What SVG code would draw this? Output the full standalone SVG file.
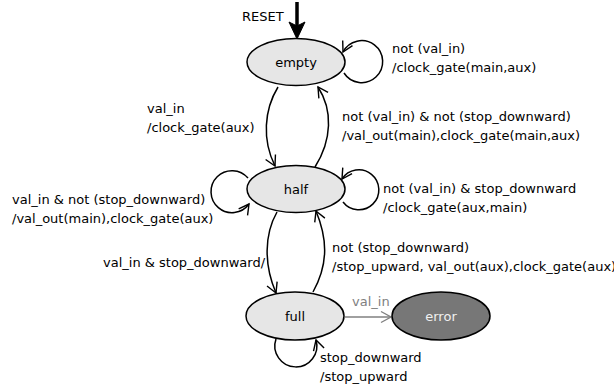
<svg xmlns="http://www.w3.org/2000/svg" width="614" height="389" viewBox="0 0 614 389">
<style>
text{font-family:"DejaVu Sans",sans-serif;font-size:13px;fill:#000}
.st ellipse{fill:#e6e6e6;stroke:#000;stroke-width:1.5}
.c path{fill:none;stroke:#000;stroke-width:1.5;marker-end:url(#ah)}
.mid{text-anchor:middle}
</style>
<defs>
<marker id="ah" viewBox="-12 -7 14 14" refX="0" refY="0" markerWidth="14" markerHeight="14" markerUnits="userSpaceOnUse" orient="auto">
<path d="M-10,-5.5 L0,0 L-10,5.5" fill="none" stroke="#000" stroke-width="1.4"/>
</marker>
<marker id="ahg" viewBox="-12 -7 14 14" refX="0" refY="0" markerWidth="14" markerHeight="14" markerUnits="userSpaceOnUse" orient="auto">
<path d="M-10,-5.5 L0,0 L-10,5.5" fill="none" stroke="#808080" stroke-width="1.4"/>
</marker>
</defs>
<g id="connectors" class="c">
<path d="M297,2 L297,26" style="stroke-width:3.5;marker-end:none"/>
<polygon points="289,22 297,39 305,22 297,26" fill="#000" stroke="#000" stroke-width="1"/>
<path d="M344,73 A21,21 0 1 0 343,52"/>
<path d="M278,87 C264,110 262,140 275,166"/>
<path d="M315,167 C332,140 333,110 318,87"/>
<path d="M248,178 A21,21 0 1 0 249,204"/>
<path d="M343,202 A20,20 0 1 0 342,179"/>
<path d="M277,212 C264,235 264,265 276,293"/>
<path d="M313,292 C328,265 328,240 316,211"/>
<path d="M276,339 A21,21 0 1 0 316,340"/>
<path d="M345,317 L391,317" style="stroke:#808080;marker-end:url(#ahg)"/>
</g>
<g id="labels">
<text x="242" y="21">RESET</text>
<text x="392" y="53">not (val_in)</text>
<text x="392" y="72">/clock_gate(main,aux)</text>
<text x="147" y="113">val_in</text>
<text x="147" y="132">/clock_gate(aux)</text>
<text x="342" y="121">not (val_in) &amp; not (stop_downward)</text>
<text x="342" y="140">/val_out(main),clock_gate(main,aux)</text>
<text x="12" y="204">val_in &amp; not (stop_downward)</text>
<text x="12" y="223">/val_out(main),clock_gate(aux)</text>
<text x="383" y="193">not (val_in) &amp; stop_downward</text>
<text x="383" y="212">/clock_gate(aux,main)</text>
<text x="332" y="252">not (stop_downward)</text>
<text x="332" y="271">/stop_upward, val_out(aux),clock_gate(aux)</text>
<text x="103" y="267">val_in &amp; stop_downward/</text>
<text x="352" y="306" style="fill:#808080">val_in</text>
<text x="320" y="362">stop_downward</text>
<text x="320" y="381">/stop_upward</text>
</g>
<g id="empty" class="st"><ellipse cx="296" cy="62" rx="49" ry="23.5"/><text class="mid" x="296" y="67">empty</text></g>
<g id="half" class="st"><ellipse cx="296" cy="189" rx="49" ry="23.5"/><text class="mid" x="296" y="194">half</text></g>
<g id="full" class="st"><ellipse cx="295" cy="316" rx="49" ry="24"/><text class="mid" x="295" y="321">full</text></g>
<g id="error" class="st"><ellipse cx="441" cy="316" rx="49" ry="24" style="fill:#777"/><text class="mid" x="441" y="321" style="fill:#f0f0f0">error</text></g>
</svg>
